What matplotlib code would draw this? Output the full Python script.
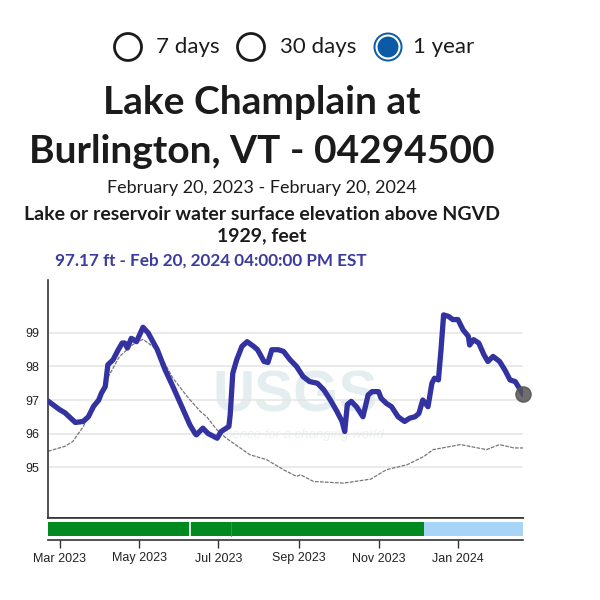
import numpy as np
import matplotlib
matplotlib.use("Agg")
import matplotlib.pyplot as plt
from matplotlib.patches import Circle

START = np.datetime64("2023-02-20")

# Gage height (blue) - day offsets from start, values in ft
stage_days = [0, 9, 13, 21, 27, 31, 35, 39, 41, 44, 46, 50, 54, 57, 59, 61, 64, 68, 73, 77,
              84, 90, 96, 104, 109, 113, 114, 119, 123, 130, 133, 139, 140, 142, 145, 149,
              153, 158, 161, 166, 169, 172, 177, 181, 186, 191, 196, 201, 207, 212, 217,
              222, 226, 228, 230, 233, 237, 242, 246, 249, 254, 256, 260, 264, 269, 274,
              278, 282, 285, 288, 292, 295, 297, 300, 302, 304, 308, 311, 315, 319, 323,
              324, 327, 331, 335, 338, 342, 347, 351, 355, 359, 363, 365]
stage_vals = [96.97, 96.71, 96.62, 96.33, 96.36, 96.50, 96.81, 97.00, 97.20, 97.40, 98.05,
              98.20, 98.50, 98.70, 98.70, 98.55, 98.84, 98.74, 99.17, 99.00, 98.50, 97.90,
              97.40, 96.70, 96.26, 96.00, 95.96, 96.16, 96.00, 95.86, 96.06, 96.21, 96.56,
              97.80, 98.20, 98.60, 98.74, 98.60, 98.50, 98.15, 98.12, 98.50, 98.50, 98.45,
              98.20, 98.00, 97.70, 97.55, 97.50, 97.30, 97.00, 96.66, 96.36, 96.06, 96.86,
              96.96, 96.80, 96.50, 97.15, 97.25, 97.25, 97.05, 96.90, 96.80, 96.50, 96.36,
              96.46, 96.50, 96.60, 97.00, 96.80, 97.50, 97.65, 97.60, 98.50, 99.54, 99.49,
              99.40, 99.40, 99.09, 98.90, 98.64, 98.80, 98.70, 98.35, 98.15, 98.30, 98.15,
              97.90, 97.60, 97.55, 97.30, 97.17]

# Comparison series (gray dashed)
comp_days = [0, 13, 19, 27, 35, 45, 55, 65, 73, 84, 96, 107, 117, 122, 130, 137, 155, 168,
             181, 191, 194, 204, 227, 248, 260, 276, 289, 296, 317, 337, 347, 358, 365]
comp_vals = [95.47, 95.62, 95.76, 96.20, 96.80, 97.60, 98.30, 98.65, 98.81, 98.50, 97.65,
             97.10, 96.66, 96.50, 96.10, 95.86, 95.37, 95.22, 94.92, 94.72, 94.77, 94.57,
             94.52, 94.64, 94.92, 95.07, 95.32, 95.52, 95.67, 95.52, 95.67, 95.57, 95.57]

# Approval status band: segment boundaries (day offsets) and status
band_days = [0, 109, 141, 289, 365]
band_kind = ["approved", "approved", "approved", "provisional"]

y_ticks = [95, 96, 97, 98, 99]
x_tick_dates = ["2023-03-01", "2023-05-01", "2023-07-01", "2023-09-01", "2023-11-01", "2024-01-01"]
x_tick_labels = ["Mar 2023", "May 2023", "Jul 2023", "Sep 2023", "Nov 2023", "Jan 2024"]

title = "Lake Champlain at\nBurlington, VT - 04294500"
period = "February 20, 2023 - February 20, 2024"
param = "Lake or reservoir water surface elevation above NGVD\n1929, feet"
latest = "97.17 ft - Feb 20, 2024 04:00:00 PM EST"
options = ["7 days", "30 days", "1 year"]


def to_dates(days):
    return (START + np.array(days).astype("timedelta64[D]")).astype("datetime64[s]").astype(object)


W = H = 600
fig = plt.figure(figsize=(6, 6), dpi=100)
fig.patch.set_facecolor("white")


def fx(x):
    return x / W


def fy(y):
    return 1 - y / H


TXT = ["Lato", "DejaVu Sans"]
TICK = ["Liberation Sans", "DejaVu Sans"]

# radio buttons
btn_x = [128, 251, 388]
lbl_x = [156, 280, 413]
for i, (bx, lx, lab) in enumerate(zip(btn_x, lbl_x, options)):
    if i == 2:
        fig.patches.append(Circle((fx(bx), fy(47)), 14.5 / W, transform=fig.transFigure,
                                  facecolor="#0b5aa8", edgecolor="#0b5aa8", lw=0))
        fig.patches.append(Circle((fx(bx), fy(47)), 11.5 / W, transform=fig.transFigure,
                                  facecolor="none", edgecolor="white", lw=1.5))
    else:
        fig.patches.append(Circle((fx(bx), fy(47)), 13.5 / W, transform=fig.transFigure,
                                  facecolor="white", edgecolor="#1b1b1b", lw=2.0))
    fig.text(fx(lx), fy(47), lab, ha="left", va="center", fontsize=16, color="#1b1b1b",
             family=TXT)

fig.text(fx(262), fy(127), title, ha="center", va="center", fontsize=28, fontweight="bold",
         color="#1b1b1b", family=TXT, linespacing=1.45)
fig.text(fx(262), fy(188), period, ha="center", va="center", fontsize=13, color="#1b1b1b",
         family=TXT)
fig.text(fx(262), fy(225), param, ha="center", va="center", fontsize=14, fontweight="bold",
         color="#1b1b1b", family=TXT, linespacing=1.25)
fig.text(fx(55), fy(261), latest, ha="left", va="center", fontsize=12.3, fontweight="bold",
         color="#3b3ba0", family=TXT)

# main axes
L, R, T, B = 48, 523, 280, 518
ax = fig.add_axes([fx(L), fy(B), (R - L) / W, (B - T) / H])
x0 = to_dates([0])[0]
x1 = to_dates([365])[0]
ax.set_xlim(x0, x1)
ax.set_ylim(93.48, 100.58)
for s in ["top", "right"]:
    ax.spines[s].set_visible(False)
for s in ["left", "bottom"]:
    ax.spines[s].set_color("#333333")
    ax.spines[s].set_linewidth(1.2)
ax.set_yticks(y_ticks)
ax.set_yticklabels([str(v) for v in y_ticks], family=TICK, fontsize=9, color="#222222")
ax.tick_params(axis="y", length=0, pad=6)
ax.set_xticks([])
ax.grid(axis="y", color="#e6e6e6", lw=1.2)
ax.set_axisbelow(True)

# watermark
ax.text(0.52, 0.51, "USGS", transform=ax.transAxes, ha="center", va="center", fontsize=42,
        fontweight="bold", color="#e4eef0", family=["Liberation Sans", "DejaVu Sans"], zorder=0)
ax.text(0.53, 0.35, "science for a changing world", transform=ax.transAxes, ha="center",
        va="center", fontsize=9.5, style="italic", color="#ebf2f3",
        family=["Liberation Sans", "DejaVu Sans"], zorder=0)

ax.plot(to_dates(comp_days), comp_vals, color="#777777", lw=0.9, ls=(0, (3, 1)), zorder=2)
ax.plot(to_dates(stage_days), stage_vals, color="#3232a0", lw=3.8, solid_joinstyle="round",
        solid_capstyle="round", zorder=3)
ax.plot([to_dates([stage_days[-1]])[0]], [stage_vals[-1]], "o", ms=11, color="#555555",
        alpha=0.85, zorder=4, clip_on=False)

# approval band axes
bax = fig.add_axes([fx(L), fy(540), (R - L) / W, 22 / H])
bax.set_xlim(x0, x1)
bax.set_ylim(0, 1)
colors = {"approved": "#008a1f", "provisional": "#a8d4f7"}
bd = to_dates(band_days)
for i, k in enumerate(band_kind):
    bax.axvspan(bd[i], bd[i + 1], ymin=0.18, ymax=0.82, color=colors[k], lw=0)
bax.axvline(bd[1], ymin=0.18, ymax=0.82, color="white", lw=1.2)
bax.axvline(bd[2], ymin=0.18, ymax=0.82, color="#3aa050", lw=0.6)
for s in ["left", "right"]:
    bax.spines[s].set_visible(False)
for s in ["top", "bottom"]:
    bax.spines[s].set_color("#333333")
    bax.spines[s].set_linewidth(1.2)
bax.set_yticks([])
bax.set_xticks([np.datetime64(d).astype("datetime64[s]").astype(object) for d in x_tick_dates])
bax.set_xticklabels(x_tick_labels, family=TICK, fontsize=9, color="#222222")
bax.tick_params(axis="x", length=6, width=1, color="#333333", pad=3)

fig.savefig("out.png", dpi=100)
